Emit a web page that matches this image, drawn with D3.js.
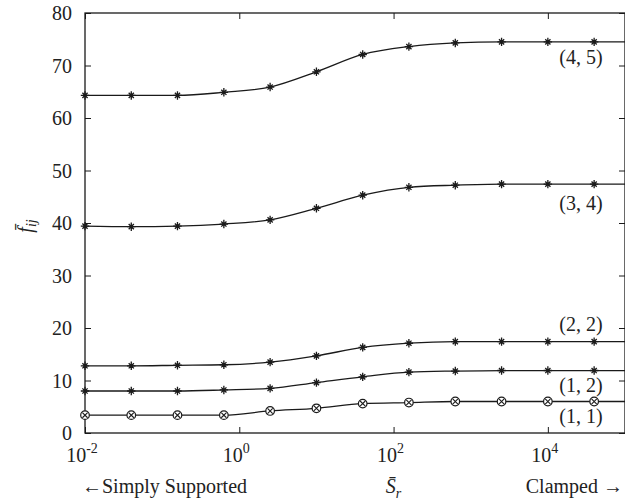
<!DOCTYPE html>
<html><head><meta charset="utf-8">
<script src="https://cdn.jsdelivr.net/npm/d3@7"></script>
<style>
html,body{margin:0;padding:0;background:#fff;}
text{font-family:"Liberation Serif","Times New Roman",serif;fill:#222;}
</style></head>
<body><svg id="c" width="625" height="504"></svg>
<script>
// Data
const sr = [0.01, 0.0398, 0.158, 0.631, 2.51, 10, 39.8, 158, 631, 2512, 10000, 39811];
const srEnd = 100000;
const f11 = [3.4, 3.4, 3.4, 3.4, 4.2, 4.7, 5.6, 5.8, 6.0, 6.0, 6.0, 6.0];
const f12 = [8.0, 8.0, 8.0, 8.2, 8.5, 9.6, 10.7, 11.6, 11.8, 11.9, 11.9, 11.9];
const f22 = [12.8, 12.8, 12.9, 13.0, 13.5, 14.7, 16.3, 17.1, 17.4, 17.4, 17.4, 17.4];
const f34 = [39.4, 39.3, 39.4, 39.8, 40.6, 42.8, 45.3, 46.8, 47.2, 47.4, 47.4, 47.4];
const f45 = [64.3, 64.3, 64.3, 64.9, 65.9, 68.8, 72.1, 73.6, 74.3, 74.5, 74.5, 74.5];
const seriesNames = ["(1, 1)", "(1, 2)", "(2, 2)", "(3, 4)", "(4, 5)"];
const seriesMarkers = ["circlex", "star", "star", "star", "star"];
const yTicks = [0, 10, 20, 30, 40, 50, 60, 70, 80];
const xTickExps = [-2, 0, 2, 4];
const xTicks = [0.01, 1, 100, 10000];

const series = [f11, f12, f22, f34, f45];

const svg = d3.select("#c");
const L = 85, R = 625, T = 13, B = 433;
const x = d3.scaleLog().domain([0.01, 100000]).range([L, R]);
const y = d3.scaleLinear().domain([0, 80]).range([B, T]);
const ink = "#1a1a1a";

// axes with inward ticks, mirrored
const gL = svg.append("g").attr("transform", `translate(${L},0)`)
  .call(d3.axisRight(y).tickValues(yTicks).tickSize(6).tickFormat(""));
const gR = svg.append("g").attr("transform", `translate(${R},0)`)
  .call(d3.axisLeft(y).tickValues(yTicks).tickSize(6).tickFormat(""));
const gB = svg.append("g").attr("transform", `translate(0,${B})`)
  .call(d3.axisTop(x).tickValues(xTicks).tickSize(6).tickFormat(""));
const gT = svg.append("g").attr("transform", `translate(0,${T})`)
  .call(d3.axisBottom(x).tickValues(xTicks).tickSize(6).tickFormat(""));
[gL, gR, gB, gT].forEach(g => {
  g.selectAll("path.domain").remove();
  g.selectAll("line").attr("stroke", ink).attr("stroke-width", 1);
});
svg.append("rect").attr("x", L).attr("y", T).attr("width", R - L).attr("height", B - T)
  .attr("fill", "none").attr("stroke", ink).attr("stroke-width", 1.3);

// y tick labels
svg.append("g").selectAll("text").data(yTicks).join("text")
  .attr("x", L - 13).attr("y", d => y(d) + 7)
  .attr("text-anchor", "end").attr("font-size", 20).text(d => d);

// x tick labels 10^n
const xl = svg.append("g").selectAll("text").data(xTickExps).join("text")
  .attr("x", (d, i) => x(xTicks[i]) - 3).attr("y", 462)
  .attr("text-anchor", "middle").attr("font-size", 20);
xl.append("tspan").text("10");
xl.append("tspan").attr("font-size", 14).attr("dy", -9).text(d => d < 0 ? "-" + (-d) : d);

// lines
const line = d3.line().x(d => x(d[0])).y(d => y(d[1])).curve(d3.curveMonotoneX);
series.forEach((s, si) => {
  const pts = sr.map((v, i) => [v, s[i]]);
  pts.push([srEnd, s[s.length - 1]]);
  svg.append("path").datum(pts).attr("d", line)
    .attr("fill", "none").attr("stroke", ink).attr("stroke-width", 1.3);
  const g = svg.append("g");
  sr.forEach((v, i) => {
    const cx = x(v), cy = y(s[i]);
    const m = g.append("g").attr("transform", `translate(${cx},${cy})`);
    if (seriesMarkers[si] === "circlex") {
      m.append("circle").attr("r", 4.3).attr("fill", "#fff").attr("stroke", ink).attr("stroke-width", 1.2);
      const a = 2.6;
      m.append("path").attr("d", `M${-a},${-a}L${a},${a}M${-a},${a}L${a},${-a}`)
        .attr("stroke", ink).attr("stroke-width", 1.1);
    } else {
      const r = 4.2, a = 2.6;
      m.append("path").attr("d", `M0,${-r}L0,${r}M${-r},0L${r},0M${-a},${-a}L${a},${a}M${-a},${a}L${a},${-a}`)
        .attr("stroke", ink).attr("stroke-width", 1.3);
    }
  });
});

// series labels
const labelY = [416, 385, 324, 203, 57];
svg.append("g").selectAll("text").data(seriesNames).join("text")
  .attr("x", 581).attr("y", (d, i) => labelY[i] + 7)
  .attr("text-anchor", "middle").attr("font-size", 20).text(d => d);

// y axis label f̄_ij
const yl = svg.append("text").attr("transform", "translate(32,226) rotate(-90)")
  .attr("text-anchor", "middle").attr("font-size", 20).attr("font-style", "italic");
yl.append("tspan").text("f\u0304");
yl.append("tspan").attr("font-size", 14).attr("dy", 4).text("ij");

// x axis labels
svg.append("text").attr("x", 82).attr("y", 493).attr("font-size", 20).text("\u2190Simply Supported");
svg.append("text").attr("x", 623).attr("y", 493).attr("text-anchor", "end").attr("font-size", 20).text("Clamped \u2192");
const xlab = svg.append("text").attr("x", x(100)).attr("y", 493).attr("text-anchor", "middle")
  .attr("font-size", 20).attr("font-style", "italic");
xlab.append("tspan").text("S\u0304");
xlab.append("tspan").attr("font-size", 14).attr("dy", 5).text("r");
</script></body></html>
